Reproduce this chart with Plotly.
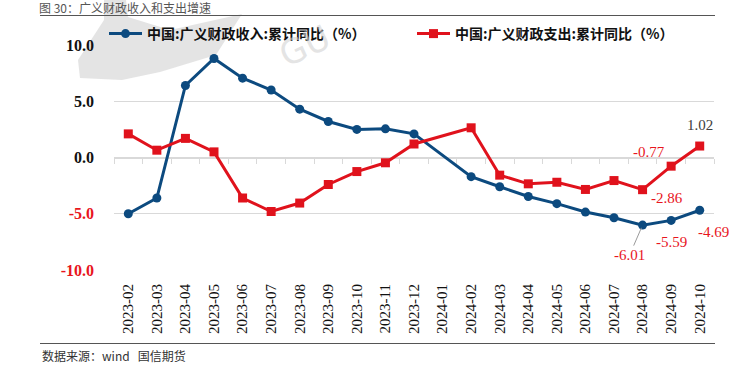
import plotly.graph_objects as go

categories = ["2023-02", "2023-03", "2023-04", "2023-05", "2023-06", "2023-07",
              "2023-08", "2023-09", "2023-10", "2023-11", "2023-12", "2024-01",
              "2024-02", "2024-03", "2024-04", "2024-05", "2024-06", "2024-07",
              "2024-08", "2024-09", "2024-10"]
revenue = [-5.0, -3.6, 6.4, 8.8, 7.05, 6.0, 4.3, 3.2, 2.5, 2.55, 2.1, None,
           -1.7, -2.6, -3.47, -4.1, -4.85, -5.36, -6.01, -5.59, -4.69]
expenditure = [2.1, 0.65, 1.7, 0.5, -3.6, -4.8, -4.05, -2.4, -1.25, -0.47, 1.2, None,
               2.64, -1.57, -2.34, -2.2, -2.84, -2.05, -2.86, -0.77, 1.02]
ytick_vals = [10, 5, 0, -5, -10]
ytick_text = ["10.0", "5.0", "0.0", "-5.0", "-10.0"]
name_rev = "中国:广义财政收入:累计同比（%）"
name_exp = "中国:广义财政支出:累计同比（%）"

BLUE = "#0c4a7f"
RED = "#e0121c"
LABEL_RED = "#e8151d"
GRID = "#d9d9d9"

W, H = 751, 367
ML, MR, MT, MB = 114, 37, 45, 97
PW, PH = W - ML - MR, H - MT - MB


def px2x(px):
    return (px - ML) / PW


def py2y(py):
    return (H - MB - py) / PH


fig = go.Figure()
fig.add_trace(go.Scatter(
    x=categories, y=revenue, name=name_rev, mode="lines+markers",
    connectgaps=True, line=dict(color=BLUE, width=3),
    marker=dict(symbol="circle", size=9, color=BLUE),
))
fig.add_trace(go.Scatter(
    x=categories, y=expenditure, name=name_exp, mode="lines+markers",
    connectgaps=True, line=dict(color=RED, width=3),
    marker=dict(symbol="square", size=9, color=RED), xaxis="x2",
))

ticktext = []
for v, t in zip(ytick_vals, ytick_text):
    if v < 0:
        ticktext.append('<span style="color:#e8151d">%s</span>' % t)
    else:
        ticktext.append(t)

fig.update_layout(
    width=W, height=H, autosize=False,
    margin=dict(l=ML, r=MR, t=MT, b=MB, pad=0),
    paper_bgcolor="white", plot_bgcolor="white",
    showlegend=True,
    legend=dict(orientation="h", x=px2x(104), xanchor="left", y=py2y(34), yanchor="middle",
                font=dict(family="Noto Sans CJK SC", size=14, color="#111", weight="bold"),
                entrywidth=260, entrywidthmode="pixels", itemwidth=33,
                bgcolor="rgba(0,0,0,0)"),
    xaxis=dict(type="category", categoryorder="array", categoryarray=categories,
               range=[-0.5, len(categories) - 0.5], showgrid=False, showline=False,
               ticks="", tickangle=-90, ticklabelstandoff=10,
               tickfont=dict(family="Liberation Serif", size=15, color="#111")),
    xaxis2=dict(type="category", categoryorder="array", categoryarray=categories,
                matches="x", overlaying="x", anchor="free", position=0.5,
                showline=True, linecolor=GRID, linewidth=1, showgrid=False,
                ticks="outside", ticklen=5, tickcolor=GRID, tickson="boundaries",
                showticklabels=False, layer="below traces"),
    yaxis=dict(range=[-10, 10], tickvals=ytick_vals, ticktext=ticktext,
               showgrid=True, gridcolor=GRID, gridwidth=1, zeroline=False,
               showline=False, ticks="", ticklabelstandoff=19,
               tickfont=dict(family="Liberation Serif", size=16, color="#111", weight="bold"),
               layer="below traces"),
)

# data labels on the last points
lab_font = dict(family="Liberation Serif", size=15, color=LABEL_RED)
labels = [
    ("x2", "y", 20, expenditure[20], "%.2f" % expenditure[20], 0, 21, "#404040"),
    ("x2", "y", 19, expenditure[19], "%.2f" % expenditure[19], -22, 14, LABEL_RED),
    ("x2", "y", 18, expenditure[18], "%.2f" % expenditure[18], 24, -8, LABEL_RED),
    ("x", "y", 19, revenue[19], "%.2f" % revenue[19], 0, -22, LABEL_RED),
    ("x", "y", 20, revenue[20], "%.2f" % revenue[20], 14, -22, LABEL_RED),
]
for xr, yr, i, yv, txt, xs, ys, col in labels:
    fig.add_annotation(x=categories[i], y=yv, xref=xr, yref=yr, text=txt,
                       showarrow=False, xshift=xs, yshift=ys,
                       font=dict(family="Liberation Serif", size=15, color=col))
fig.add_annotation(x=categories[18], y=revenue[18], xref="x", yref="y",
                   text="%.2f" % revenue[18], showarrow=True, arrowhead=0,
                   arrowwidth=1, arrowcolor="#9a9a9a", ax=-13, ay=30, standoff=3,
                   font=lab_font)

# header / footer decorations
fig.add_annotation(xref="paper", yref="paper", x=px2x(38), y=py2y(7.5),
                   xanchor="left", yanchor="middle", showarrow=False, borderpad=0,
                   text="图 30：广义财政收入和支出增速",
                   font=dict(family="Noto Sans CJK SC", size=12, color="#555"))
fig.add_annotation(xref="paper", yref="paper", x=px2x(40), y=py2y(355),
                   xanchor="left", yanchor="middle", showarrow=False,
                   text="数据来源：wind   国信期货",
                   font=dict(family="Noto Sans CJK SC", size=12, color="#333"))
fig.add_shape(type="line", xref="paper", yref="paper",
              x0=px2x(40), x1=px2x(715), y0=py2y(15.5), y1=py2y(15.5),
              line=dict(color="#555", width=1))
fig.add_shape(type="line", xref="paper", yref="paper",
              x0=px2x(40), x1=px2x(715), y0=py2y(343.5), y1=py2y(343.5),
              line=dict(color="#555", width=1))

# faint watermark
pts = [(104, 0), (126, 0), (128, 17), (170, 30), (242, 14), (216, 55),
       (160, 72), (122, 80), (80, 78), (78, 60), (104, 20)]
path = "M " + " L ".join("%.4f,%.4f" % (px2x(a), py2y(b)) for a, b in pts) + " Z"
fig.add_shape(type="path", xref="paper", yref="paper", path=path,
              fillcolor="rgba(205,205,205,0.55)", line=dict(width=0), layer="below")
fig.add_annotation(xref="paper", yref="paper", x=px2x(270), y=py2y(14),
                   text="GU", showarrow=False, textangle=-25,
                   font=dict(family="DejaVu Sans", size=34, color="rgba(210,210,210,0.6)"))

fig.write_html("out.html", config={"displayModeBar": False},
               post_script="document.body.style.margin='0';document.body.style.overflow='hidden';")
